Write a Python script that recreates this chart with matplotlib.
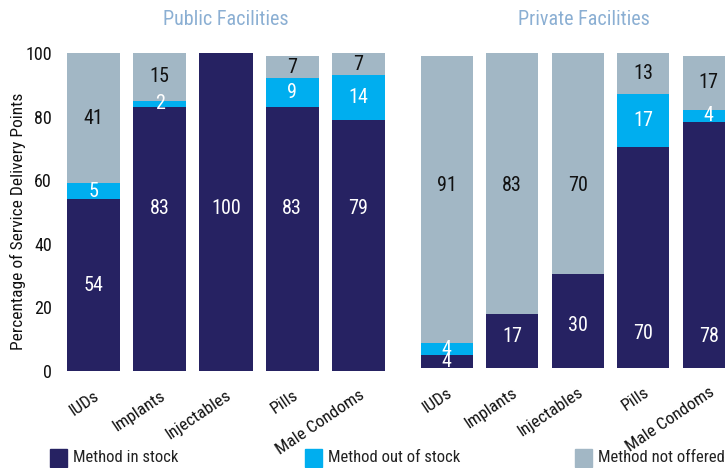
import numpy as np
import matplotlib
matplotlib.use('Agg')
import matplotlib.pyplot as plt
from matplotlib import font_manager as fm
from matplotlib.patches import Rectangle

# data
methods = ['IUDs', 'Implants', 'Injectables', 'Pills', 'Male Condoms']
series = ['Method in stock', 'Method out of stock', 'Method not offered']

public_in = [54, 83, 100, 83, 79]
public_out = [5, 2, 0, 9, 14]
public_not = [41, 15, 0, 7, 7]

private_in = [4, 17, 30, 70, 78]
private_out = [4, 0, 0, 17, 4]
private_not = [91, 83, 70, 13, 17]

# label heights that were moved by hand in the original (None = centred)
public_lab_y = [[None, 51, 51, 51, 51], [None] * 5, [None] * 5]
private_lab_y = [[None, 10, 13.6, 11, 10], [None] * 5, [57.8, 57.8, 57.8, None, None]]

colors = ['#262262', '#00AEEF', '#A2B7C5']
text_colors = ['white', 'white', '#111111']
title_color = '#8BAFD3'


def pick_font():
    # the original uses a narrow gothic face, look for any condensed font
    narrow = []
    for f in fm.fontManager.ttflist:
        nm = f.name.lower()
        fn = f.fname.lower()
        if f.stretch in ('condensed', 'semi-condensed', 'extra-condensed') or \
                'narrow' in nm or 'condensed' in nm or 'condensed' in fn or 'narrow' in fn:
            if f.style == 'normal' and f.weight in (400, 'normal', 'regular'):
                narrow.append(f)
    pref = ['liberation sans narrow', 'roboto condensed', 'open sans condensed',
            'noto sans', 'dejavu sans']
    for p in pref:
        for f in narrow:
            if p in f.name.lower() or p.replace(' ', '') in f.fname.lower().replace('-', ''):
                return fm.FontProperties(fname=f.fname), True
    if narrow:
        return fm.FontProperties(fname=narrow[0].fname), True
    return fm.FontProperties(family='DejaVu Sans'), False


base_fp, is_narrow = pick_font()
scale = 1.0 if is_narrow else 0.82


def fp(size):
    p = base_fp.copy()
    p.set_size(size * scale)
    return p


fig = plt.figure(figsize=(7.25, 4.68), dpi=100)
W, H = 725.0, 468.0


def draw_panel(rect, stacks, lab_y, title, show_y):
    ax = fig.add_axes(rect)
    x = np.arange(len(methods))
    bottom = np.zeros(len(methods))
    for k, vals in enumerate(stacks):
        vals = np.asarray(vals, dtype=float)
        ax.bar(x, vals, 0.8, bottom=bottom, color=colors[k], linewidth=0)
        for i, v in enumerate(vals):
            if v <= 0:
                continue
            y = lab_y[k][i] if lab_y[k][i] is not None else bottom[i] + v / 2
            ax.text(x[i], y, '%d' % v, ha='center', va='center',
                    color=text_colors[k], fontproperties=fp(14.5))
        bottom += vals
    ax.set_xlim(-0.5, len(methods) - 0.5)
    ax.set_ylim(0, 100)
    ax.set_yticks(np.arange(0, 101, 20))
    ax.set_xticks(x)
    ax.set_xticklabels(methods, rotation=34, ha='right', rotation_mode='anchor',
                       fontproperties=fp(12.5), color='#111111')
    ax.tick_params(length=0)
    ax.tick_params(axis='x', pad=12)
    if show_y:
        for t in ax.get_yticklabels():
            t.set_fontproperties(fp(13))
            t.set_color('#111111')
        ax.tick_params(axis='y', pad=6)
        ax.set_ylabel('Percentage of Service Delivery Points',
                      fontproperties=fp(12.5), color='#111111')
        ax.yaxis.set_label_coords(-0.102, 0.47)
    else:
        ax.set_yticklabels([])
    for s in ax.spines.values():
        s.set_visible(False)
    ax.set_title(title, color=title_color, fontproperties=fp(14.5), pad=20)
    return ax


left = draw_panel([60.3 / W, 97 / H, 331.4 / W, 318 / H],
                  [public_in, public_out, public_not], public_lab_y,
                  'Public Facilities', True)
right = draw_panel([414 / W, 100 / H, 327.5 / W, 315 / H],
                   [private_in, private_out, private_not], private_lab_y,
                   'Private Facilities', False)
right.title.set_position((0.52, 1.0))

# legend along the bottom
leg_x = [50, 305, 575]
for k, name in enumerate(series):
    fig.patches.append(Rectangle((leg_x[k] / W, 1 / H), 17 / W, 18 / H,
                                 transform=fig.transFigure, color=colors[k]))
    fig.text((leg_x[k] + 23) / W, 10 / H, name, fontproperties=fp(12),
             va='center', ha='left', color='#222222')

fig.savefig('out.png', dpi=100)
